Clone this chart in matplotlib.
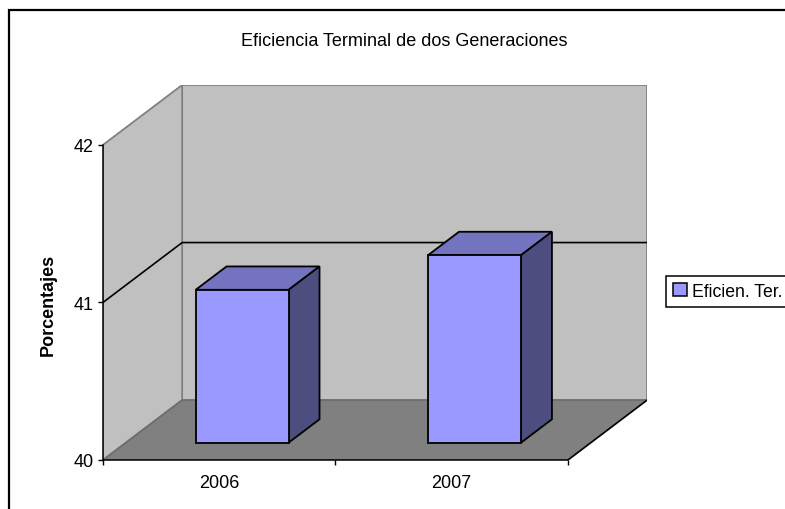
import matplotlib
matplotlib.use('Agg')
import matplotlib.pyplot as plt
from matplotlib.patches import Patch, Rectangle

plt.rcParams['font.family'] = ['Liberation Sans', 'DejaVu Sans']

years = ['2006', '2007']
values = [40.97, 41.19]
yticks = [40, 41, 42]
title = 'Eficiencia Terminal de dos Generaciones'
ylabel = 'Porcentajes'
series_name = 'Eficien. Ter.'

# oblique projection: one unit of depth moves this far in data units
DEPTH_X = 0.3405
DEPTH_Y = 0.38
BAR_WIDTH = 0.4
BAR_D0 = 0.29
BAR_D1 = 0.68


def proj(x, y, d):
    return x + d * DEPTH_X, y + d * DEPTH_Y


def face(ax, pts, color, edge, lw=1.3, z=2):
    xy = [proj(*p) for p in pts]
    ax.fill([p[0] for p in xy], [p[1] for p in xy], facecolor=color,
            edgecolor=edge, linewidth=lw, zorder=z, joinstyle='miter')


fig = plt.figure(figsize=(7.85, 5.10), dpi=100)
ax = fig.add_axes([103 / 785, (510 - 461) / 510, (647 - 103) / 785, (461 - 86) / 510])
ax.patch.set_visible(False)

xmax = len(years)
ymin, ymax = yticks[0], yticks[-1]
ax.set_xlim(0, xmax + DEPTH_X)
ax.set_ylim(ymin, ymax + DEPTH_Y)

# walls and floor
face(ax, [(0, ymin, 1), (xmax, ymin, 1), (xmax, ymax, 1), (0, ymax, 1)], '#C0C0C0', '#808080')
face(ax, [(0, ymin, 0), (0, ymin, 1), (0, ymax, 1), (0, ymax, 0)], '#C0C0C0', '#808080')
face(ax, [(0, ymin, 0), (xmax, ymin, 0), (xmax, ymin, 1), (0, ymin, 1)], '#808080', '#6E6E6E')

# grid line
for t in yticks[1:-1]:
    pts = [proj(0, t, 0), proj(0, t, 1), proj(xmax, t, 1)]
    ax.plot([p[0] for p in pts], [p[1] for p in pts], color='black', lw=1.2, zorder=2.5)
right_edge = [proj(xmax, ymin, 0), proj(xmax, ymin, 1)]
ax.plot([p[0] for p in right_edge], [p[1] for p in right_edge], color='black', lw=1.1, zorder=2.5)

# bars
for i, v in enumerate(values):
    x0 = i + 0.5 - BAR_WIDTH / 2
    x1 = i + 0.5 + BAR_WIDTH / 2
    face(ax, [(x0, v, BAR_D0), (x1, v, BAR_D0), (x1, v, BAR_D1), (x0, v, BAR_D1)], '#7373BF', 'black', z=3)
    face(ax, [(x1, ymin, BAR_D0), (x1, ymin, BAR_D1), (x1, v, BAR_D1), (x1, v, BAR_D0)], '#4D4D80', 'black', z=3)
    face(ax, [(x0, ymin, BAR_D0), (x1, ymin, BAR_D0), (x1, v, BAR_D0), (x0, v, BAR_D0)], '#9999FF', 'black', z=3)

for s in ['top', 'right']:
    ax.spines[s].set_visible(False)
ax.spines['left'].set_bounds(ymin, ymax)
ax.spines['bottom'].set_bounds(0, xmax)
ax.spines['left'].set_linewidth(1.1)
ax.spines['bottom'].set_linewidth(1.1)

ax.set_yticks(yticks)
ax.set_yticklabels([str(t) for t in yticks], fontsize=13)
ax.set_xticks(range(xmax + 1))
ax.set_xticklabels([])
ax.set_xticks([i + 0.5 for i in range(xmax)], minor=True)
ax.set_xticklabels(years, minor=True, fontsize=13)
ax.tick_params(axis='x', which='major', length=3.5, width=1)
ax.tick_params(axis='x', which='minor', length=0, pad=10)
ax.tick_params(axis='y', length=3.5, width=1, pad=3)

fig.text(48 / 785, 1 - 305 / 510, ylabel, rotation=90, ha='center', va='center',
         fontsize=13, fontweight='bold')
fig.text(404 / 785, 1 - 41 / 510, title, ha='center', va='center', fontsize=12.95)

# outer chart frame runs off the picture on the right and bottom
fig.add_artist(Rectangle((9 / 785, -0.1), 1.1, 1.1 - 11 / 510, transform=fig.transFigure,
                         fill=False, edgecolor='black', linewidth=1.6))

handle = Patch(facecolor='#9999FF', edgecolor='black', linewidth=1.1, label=series_name)
leg = fig.legend(handles=[handle], loc='center left', bbox_to_anchor=(665.5 / 785, 1 - 292.5 / 510),
                 fontsize=12.7, fancybox=False, edgecolor='black', framealpha=1,
                 handlelength=0.78, handleheight=0.78, handletextpad=0.3, borderpad=0.42,
                 borderaxespad=0)
leg.get_frame().set_linewidth(1.1)

fig.savefig('out.png', dpi=100)
